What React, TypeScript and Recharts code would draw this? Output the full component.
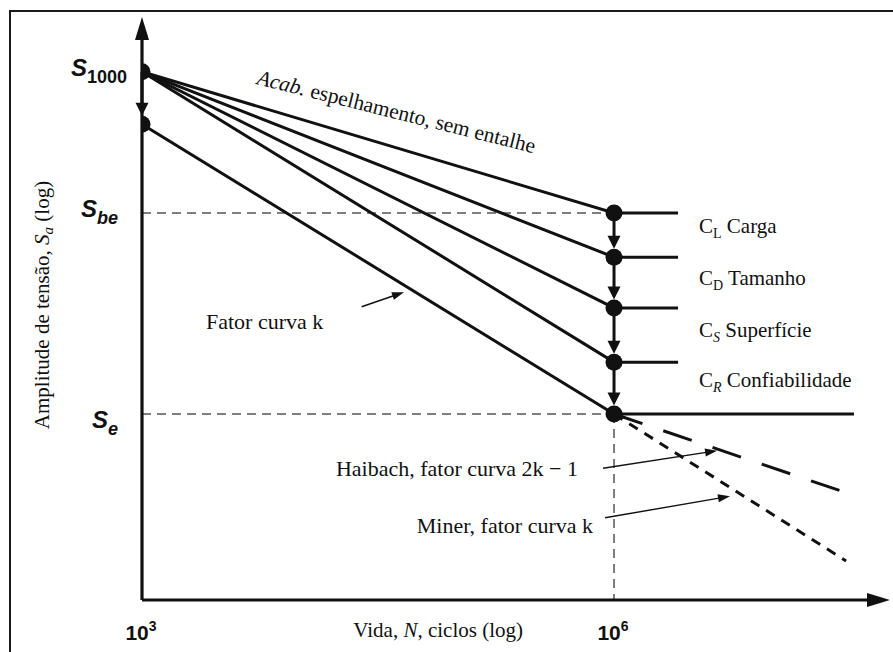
import { ComposedChart, Line, Scatter, XAxis, YAxis, ReferenceLine } from "recharts";

const INK = "#111";
const GUIDE = "#555";
const serif = "'Liberation Serif', 'Times New Roman', serif";
const sans = "'Liberation Sans', Arial, Helvetica, sans-serif";

// horizontal axis: log10 of the number of cycles
const nDomain = [3, 7.754];
const nTicks = [3, 6];
const nTickExponents = ["3", "6"];
const nKnee = 6;
const nPlateauEnd = 6.407;
const nTailEnd = 7.525;

// vertical axis: stress amplitude on a relative log scale (0 = cycles axis)
const sDomain = [0, 100];
const s1000 = 90.6;
const sStartK = 81.6;
const sBe = 66.4;
const sFactors = [58.8, 50.1, 40.8];
const sE = 31.9;
const sTicks = [s1000, sBe, sE];
const sTickSubscripts = ["1000", "be", "e"];

// extensions below the fatigue limit
const haibachEnd = { n: 7.519, s: 18.0 };
const minerEnd = { n: 7.475, s: 6.7 };

// pointer arrows from the notes to the curves
const pointerFatorK = [{ n: 4.396, s: 50.3 }, { n: 4.665, s: 52.8 }];
const pointerHaibach = [{ n: 5.93, s: 22.6 }, { n: 6.655, s: 25.6 }];
const pointerMiner = [{ n: 5.943, s: 14.1 }, { n: 6.737, s: 17.8 }];

const mirrorCurve = [
  { n: 3, s: s1000 },
  { n: nKnee, s: sBe },
  { n: nPlateauEnd, s: sBe },
];
const factorCurves = sFactors.map((f) => [
  { n: 3, s: s1000 },
  { n: nKnee, s: f },
  { n: nPlateauEnd, s: f },
]);
const kCurve = [
  { n: 3, s: sStartK },
  { n: nKnee, s: sE },
  { n: nTailEnd, s: sE },
];
const haibachCurve = [{ n: nKnee, s: sE }, haibachEnd];
const minerCurve = [{ n: nKnee, s: sE }, minerEnd];

const dots = [
  { n: 3, s: s1000 },
  { n: 3, s: sStartK },
  { n: nKnee, s: sBe },
  ...sFactors.map((f) => ({ n: nKnee, s: f })),
  { n: nKnee, s: sE },
];
const kneeChain = [sBe, ...sFactors, sE];

const seg = (pts: { n: number; s: number }[]) => pts.map((p) => ({ x: p.n, y: p.s }));

// line with a filled head; the tip can stop short of the end point (e.g. at a dot's edge)
function arrow(head: number, half: number, gap: number, width: number, color = INK) {
  return (p: any) => {
    const { x1, y1, x2, y2 } = p;
    const dx = x2 - x1;
    const dy = y2 - y1;
    const len = Math.hypot(dx, dy) || 1;
    const ux = dx / len;
    const uy = dy / len;
    const tx = x2 - ux * gap;
    const ty = y2 - uy * gap;
    const bx = tx - ux * head;
    const by = ty - uy * head;
    const px = -uy * half;
    const py = ux * half;
    return (
      <g>
        <line x1={x1} y1={y1} x2={bx + ux} y2={by + uy} stroke={color} strokeWidth={width} />
        <polygon points={`${tx},${ty} ${bx + px},${by + py} ${bx - px},${by - py}`} fill={color} />
      </g>
    );
  };
}

const axisArrow = arrow(23, 7, 0, 3.2);
const stepArrow = arrow(13, 6.5, 8.5, 3);
const pointer = arrow(12, 4, 0, 1.4);

function XTick({ x, y, payload }: any) {
  const i = nTicks.indexOf(payload.value);
  return (
    <text x={x - 1} y={y + 40} textAnchor="middle" fontFamily={sans} fontSize={21} fontWeight={700} fill={INK}>
      10
      <tspan dy={-9} fontSize={14}>
        {nTickExponents[i]}
      </tspan>
    </text>
  );
}

function YTick({ x, y, payload }: any) {
  const i = sTicks.indexOf(payload.value);
  const right = i === 0 ? 15 : 24;
  const drop = i === 2 ? 14 : 4;
  return (
    <text
      x={x - right}
      y={y + drop}
      textAnchor="end"
      fontFamily={sans}
      fontSize={24}
      fontStyle="italic"
      fontWeight={700}
      fill={INK}
    >
      S
      <tspan dy={7} fontSize={18} fontStyle={i === 0 ? "normal" : "italic"}>
        {sTickSubscripts[i]}
      </tspan>
    </text>
  );
}

function FactorLabel({ y, sym, italic, name }: { y: number; sym: string; italic: boolean; name: string }) {
  return (
    <text x={699} y={y} fontFamily={serif} fontSize={21} fill={INK}>
      C
      <tspan dy={5} fontSize={14} fontStyle={italic ? "italic" : "normal"}>
        {sym}
      </tspan>
      <tspan dy={-5}> {name}</tspan>
    </text>
  );
}

export default function App() {
  return (
    <div style={{ position: "absolute", left: 0, top: 0, width: 893, height: 652, overflow: "hidden", background: "#fff" }}>
      <div
        style={{
          position: "absolute",
          left: 9,
          top: 10,
          width: 2000,
          height: 2000,
          border: "2px solid #1a1a1a",
        }}
      />
      <ComposedChart
        width={893}
        height={652}
        margin={{ top: 17, right: 3, bottom: 0, left: 0 }}
        style={{ position: "absolute", left: 0, top: 0 }}
      >
        <XAxis
          type="number"
          dataKey="n"
          domain={nDomain}
          ticks={nTicks}
          allowDataOverflow
          interval={0}
          height={52}
          axisLine={false}
          tickLine={false}
          tickSize={0}
          tickMargin={0}
          tick={(p: any) => <XTick {...p} />}
        />
        <YAxis
          type="number"
          dataKey="s"
          domain={sDomain}
          ticks={sTicks}
          allowDataOverflow
          interval={0}
          width={142}
          axisLine={false}
          tickLine={false}
          tickSize={0}
          tickMargin={0}
          tick={(p: any) => <YTick {...p} />}
        />

        {/* dashed guides to S_be, S_e and 10^6 */}
        <ReferenceLine segment={[{ x: 3, y: sBe }, { x: nKnee, y: sBe }]} stroke={GUIDE} strokeWidth={1.5} strokeDasharray="9 6" ifOverflow="visible" />
        <ReferenceLine segment={[{ x: 3, y: sE }, { x: nKnee, y: sE }]} stroke={GUIDE} strokeWidth={1.5} strokeDasharray="9 6" ifOverflow="visible" />
        <ReferenceLine segment={[{ x: nKnee, y: sE }, { x: nKnee, y: 0 }]} stroke={GUIDE} strokeWidth={1.5} strokeDasharray="9 6" ifOverflow="visible" />

        {/* axes with arrow heads */}
        <ReferenceLine segment={[{ x: 3, y: 0 }, { x: 3, y: sDomain[1] }]} shape={axisArrow} ifOverflow="visible" />
        <ReferenceLine segment={[{ x: 3, y: 0 }, { x: nDomain[1], y: 0 }]} shape={axisArrow} ifOverflow="visible" />

        <Line data={mirrorCurve} dataKey="s" type="linear" stroke={INK} strokeWidth={3} dot={false} activeDot={false} isAnimationActive={false} />
        {factorCurves.map((c, i) => (
          <Line key={i} data={c} dataKey="s" type="linear" stroke={INK} strokeWidth={3} dot={false} activeDot={false} isAnimationActive={false} />
        ))}
        <Line data={kCurve} dataKey="s" type="linear" stroke={INK} strokeWidth={3} dot={false} activeDot={false} isAnimationActive={false} />
        <Line data={haibachCurve} dataKey="s" type="linear" stroke={INK} strokeWidth={3} strokeDasharray="30 22" dot={false} activeDot={false} isAnimationActive={false} />
        <Line data={minerCurve} dataKey="s" type="linear" stroke={INK} strokeWidth={3} strokeDasharray="10 8" dot={false} activeDot={false} isAnimationActive={false} />

        {/* reduction steps */}
        <ReferenceLine segment={[{ x: 3, y: s1000 }, { x: 3, y: sStartK }]} shape={stepArrow} ifOverflow="visible" />
        {kneeChain.slice(1).map((s, i) => (
          <ReferenceLine key={i} segment={[{ x: nKnee, y: kneeChain[i] }, { x: nKnee, y: s }]} shape={stepArrow} ifOverflow="visible" />
        ))}

        <ReferenceLine segment={seg(pointerFatorK)} shape={pointer} ifOverflow="visible" />
        <ReferenceLine segment={seg(pointerHaibach)} shape={pointer} ifOverflow="visible" />
        <ReferenceLine segment={seg(pointerMiner)} shape={pointer} ifOverflow="visible" />

        <Scatter
          data={dots}
          dataKey="s"
          fill={INK}
          isAnimationActive={false}
          shape={(p: any) => <circle cx={p.cx} cy={p.cy} r={8.5} fill={INK} />}
        />

        <text x={256} y={84} transform="rotate(14 256 84)" fontFamily={serif} fontSize={21.5} fill={INK}>
          <tspan fontStyle="italic">Acab.</tspan> espelhamento, sem entalhe
        </text>
        <text x={206} y={329} fontFamily={serif} fontSize={22} fill={INK}>
          Fator curva k
        </text>
        <text x={578} y={476} textAnchor="end" fontFamily={serif} fontSize={22} fill={INK}>
          Haibach, fator curva 2k − 1
        </text>
        <text x={593} y={533} textAnchor="end" fontFamily={serif} fontSize={22} fill={INK}>
          Miner, fator curva k
        </text>

        <FactorLabel y={233} sym="L" italic={false} name="Carga" />
        <FactorLabel y={285} sym="D" italic={false} name="Tamanho" />
        <FactorLabel y={337} sym="S" italic name="Superfície" />
        <FactorLabel y={387} sym="R" italic name="Confiabilidade" />

        <text x={523} y={637} textAnchor="end" fontFamily={serif} fontSize={21} fill={INK}>
          Vida, <tspan fontStyle="italic">N</tspan>, ciclos (log)
        </text>
        <text x={49} y={305} transform="rotate(-90 49 305)" textAnchor="middle" fontFamily={serif} fontSize={21} fill={INK}>
          Amplitude de tensão, <tspan fontStyle="italic">S</tspan>
          <tspan dy={4} fontSize={15} fontStyle="italic">
            a
          </tspan>
          <tspan dy={-4}> (log)</tspan>
        </text>
      </ComposedChart>
    </div>
  );
}
